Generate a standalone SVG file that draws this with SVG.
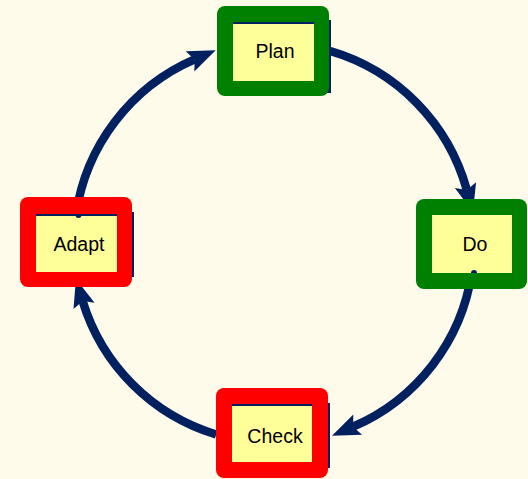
<svg xmlns="http://www.w3.org/2000/svg" width="528" height="479" viewBox="0 0 528 479">
  <style>
    .bg { fill: #FEFBEA; }
    .green { fill: #008000; }
    .red { fill: #FF0000; }
    .inner { fill: #FFFF99; }
    .navy { fill: #002060; }
    .lbl { font-family: "Liberation Sans", Arial, sans-serif; font-size: 19.5px; fill: #000000; text-anchor: middle; }
    .arc { fill: none; stroke: #002060; stroke-width: 8.5; marker-end: url(#head); }
  </style>
  <defs>
    <marker id="head" markerUnits="userSpaceOnUse" markerWidth="30" markerHeight="24" refX="5" refY="10" orient="auto" overflow="visible">
      <path d="M0,-1 L28,10 L0,21 L5,10 z" fill="#002060"/>
    </marker>
  </defs>
  <rect class="bg" x="0" y="0" width="528" height="479"/>

  <g id="connectors">
    <path class="arc" d="M330.1,51 A200,200 0 0 1 466.8,189.9"/>
    <path class="arc" d="M471.8,272.6 A200,200 0 0 1 353.1,426.7"/>
    <path class="arc" d="M216.2,434.5 A200,200 0 0 1 82.6,301.1"/>
    <path class="arc" d="M76,214.5 A200,200 0 0 1 194.6,59.4"/>
  </g>

  <g id="plan">
    <rect class="navy" x="327" y="20" width="4" height="73"/>
    <rect class="green" x="217" y="6" width="112" height="90" rx="8"/>
    <rect class="inner" x="233" y="22" width="81" height="59"/>
    <rect class="navy" x="233" y="22" width="81" height="2"/>
    <text class="lbl" x="275" y="58">Plan</text>
  </g>

  <g id="do">
    <rect class="green" x="416" y="199" width="111" height="90" rx="8"/>
    <rect class="inner" x="432" y="215" width="80" height="58"/>
    <path class="navy" d="M471,273 a3,3 0 0 1 6,0 z"/>
    <text class="lbl" x="475" y="251">Do</text>
  </g>

  <g id="adapt">
    <rect class="navy" x="130" y="212" width="4" height="65"/>
    <rect class="red" x="20" y="197" width="112" height="90" rx="8"/>
    <rect class="inner" x="36" y="214" width="81" height="58"/>
    <rect class="navy" x="36" y="214" width="81" height="2"/>
    <path class="navy" d="M75.5,215 a3,3 0 0 0 6,0 z"/>
    <text class="lbl" x="79" y="251">Adapt</text>
  </g>

  <g id="check">
    <rect class="navy" x="326" y="403" width="4" height="65"/>
    <rect class="red" x="216" y="388" width="112" height="90" rx="8"/>
    <rect class="inner" x="232" y="404" width="80" height="58"/>
    <rect class="navy" x="232" y="404" width="80" height="2"/>
    <text class="lbl" x="275" y="443">Check</text>
  </g>
</svg>
